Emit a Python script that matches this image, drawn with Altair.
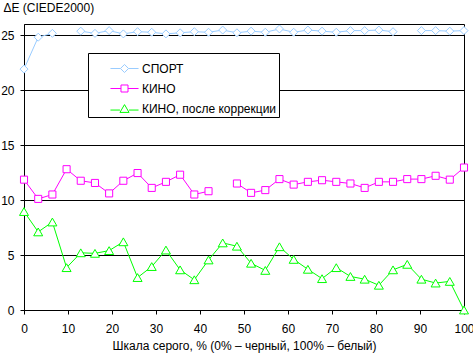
import altair as alt
import pandas as pd

# Gray levels, % (32 equally spaced steps)
x_pct = [0, 3.23, 6.45, 9.68, 12.9, 16.13, 19.35, 22.58, 25.81, 29.03, 32.26, 35.48,
         38.71, 41.94, 45.16, 48.39, 51.61, 54.84, 58.06, 61.29, 64.52, 67.74, 70.97,
         74.19, 77.42, 80.65, 83.87, 87.1, 90.32, 93.55, 96.77, 100]

sport = [21.9, 24.8, 25.15, None, 25.35, 25.15, 25.4, 25.1, 25.3, 25.25, 25.1, 25.2,
         25.3, 25.25, 25.45, 25.2, 25.35, 25.25, 25.55, 25.25, 25.45, 25.35, 25.25,
         25.4, 25.4, 25.45, 25.3, None, 25.4, 25.4, 25.35, 25.4]
kino = [11.85, 10.1, 10.5, 12.8, 11.75, 11.55, 10.6, 11.75, 12.45, 11.1, 11.65, 12.3,
        10.5, 10.8, None, 11.5, 10.65, 10.9, 11.9, 11.4, 11.65, 11.8, 11.65, 11.5,
        11.1, 11.65, 11.65, 11.9, 11.9, 12.2, 11.85, 12.95]
kino_corr = [8.95, 7.1, 8.0, 3.85, 5.2, 5.15, 5.4, 6.2, 2.95, 3.95, 5.45, 3.65, 2.75,
             4.55, 6.1, 5.8, 4.25, 3.6, 5.75, 4.6, 3.7, 2.85, 3.85, 3.05, 2.8, 2.25,
             3.65, 4.15, 2.8, 2.45, 2.6, 0.0]

series_names = ["СПОРТ", "КИНО", "КИНО, после коррекции"]
series_colors = ["#99CCFF", "#FF00FF", "#00FF00"]
series_shapes = ["diamond", "square", "triangle-up"]
series_sizes = [64, 50, 81]

x_title = "Шкала серого, % (0% – черный, 100% – белый)"
y_title = "ΔE (CIEDE2000)"
x_ticks = [0, 10, 20, 30, 40, 50, 60, 70, 80, 90, 100]
y_ticks = [0, 5, 10, 15, 20, 25]

rows = []
for name, vals in zip(series_names, [sport, kino, kino_corr]):
    for xv, yv in zip(x_pct, vals):
        rows.append({"x": xv, "v": yv, "s": name})
df = pd.DataFrame(rows)

FONT = "Liberation Sans"

# legend symbols: line stub + marker (unit coordinates)
p_diamond = "M-1.08,0H-0.31M-0.31,0L0,-0.31L0.31,0L0,0.31ZM0.31,0H1.08"
p_square = "M-1.08,0H-0.27M-0.27,-0.27H0.27V0.27H-0.27ZM0.27,0H1.08"
p_tri = "M-1.08,0.12H-0.35M0,-0.3L0.35,0.3H-0.35ZM0.35,0.12H1.08"
shape_expr = (f"datum.value === '{series_names[0]}' ? '{p_diamond}' : "
              f"datum.value === '{series_names[1]}' ? '{p_square}' : '{p_tri}'")

legend = alt.Legend(
    orient="none", legendX=64, legendY=29, title=None,
    fillColor="white", strokeColor="black", padding=2,
    symbolOffset=21, labelOffset=4, symbolSize=676, rowPadding=0,
    symbolType=alt.ExprRef(expr=shape_expr),
    symbolFillColor="white", symbolStrokeWidth=1,
    labelFont=FONT, labelFontSize=12, labelColor="black", labelLimit=400,
    labelExpr="datum.label + '\u00a0\u00a0\u00a0\u00a0\u00a0'",
    zindex=1,
)

color_scale = alt.Scale(domain=series_names, range=series_colors)

xaxis = alt.Axis(values=x_ticks, grid=False, domainColor="black", tickColor="black",
                 tickSize=4, labelPadding=9, labelFlush=False, labelOverlap=False,
                 labelFont=FONT, labelFontSize=12, labelColor="black", format="d",
                 title=x_title, titleFont=FONT, titleFontSize=12, titleFontWeight="normal",
                 titleColor="black", titleY=39, titleBaseline="alphabetic")
yaxis = alt.Axis(values=y_ticks, grid=True, gridColor="black", gridOpacity=1, gridWidth=1,
                 domainColor="black", tickColor="black", tickSize=4, labelPadding=6,
                 labelFlush=False, labelFont=FONT, labelFontSize=12, labelColor="black",
                 title=y_title, titleFont=FONT, titleFontSize=12, titleFontWeight="normal",
                 titleColor="black", titleAngle=0, titleX=-21, titleY=-13,
                 titleAlign="left", titleBaseline="alphabetic")

base = alt.Chart(df).encode(
    x=alt.X("x:Q", scale=alt.Scale(domain=[0, 100], nice=False), axis=xaxis),
    y=alt.Y("v:Q", scale=alt.Scale(domain=[0, 26], nice=False), axis=yaxis),
)

lines = base.mark_line(strokeWidth=1, invalid="break-paths-show-domains").encode(
    color=alt.Color("s:N", scale=color_scale, legend=legend),
)

point_layers = []
for name, col, shp, sz in zip(series_names, series_colors, series_shapes, series_sizes):
    point_layers.append(
        base.transform_filter(alt.datum.s == name)
        .transform_filter("isValid(datum.v)")
        .mark_point(filled=False, fill="white", stroke=col, opacity=1, strokeWidth=1,
                    shape=shp, size=sz)
    )

chart = alt.layer(lines, *point_layers).properties(
    width=440, height=286,
    padding={"left": 24, "top": 24, "right": 9, "bottom": 43},
    autosize=alt.AutoSizeParams(type="none"),
    background="white",
).configure_view(stroke="black", strokeWidth=1)

chart.save("out.html", embed_options={"renderer": "svg", "actions": False})
